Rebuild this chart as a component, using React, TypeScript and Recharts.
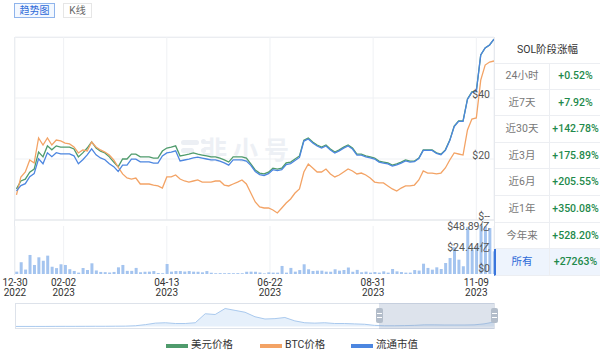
import React from 'react';
import { LineChart, Line, BarChart, Bar, AreaChart, Area, XAxis, YAxis, CartesianGrid, ReferenceLine } from 'recharts';

const FONT = 'Roboto, "Noto Sans CJK SC", sans-serif';

const GREEN = '#4f9b6c';
const ORANGE = '#f3a365';
const BLUE = '#4c86e0';

// 采样点：2022-12-30 起的天数，每 3 天一个点
const dayOffsets = Array.from({ length: 109 }, (_, i) => 2 + i * 3);

const tickDays = [1, 34, 104, 174, 244, 314];
const tickLabels = [
  ['12-30', '2022'],
  ['02-02', '2023'],
  ['04-13', '2023'],
  ['06-22', '2023'],
  ['08-31', '2023'],
  ['11-09', '2023'],
];

// 美元价格 ($)
const usdPrice = [
  10.2, 12.8, 13.4, 15.7, 16.7, 22.3, 20.7, 24.3, 23.0, 24.3,
  23.9, 23.9, 23.9, 23.3, 20.7, 22.0, 23.6, 25.6, 23.6, 22.6,
  22.0, 20.7, 19.0, 17.4, 20.0, 20.0, 21.6, 21.6, 20.7, 20.7,
  20.7, 20.3, 20.3, 22.6, 23.6, 23.9, 24.3, 21.0, 21.3, 21.6,
  22.0, 21.6, 21.3, 21.0, 20.7, 20.7, 20.3, 19.7, 19.0, 20.7,
  20.7, 20.7, 20.3, 18.4, 16.4, 15.4, 15.1, 15.7, 17.0, 16.7,
  17.0, 18.7, 19.0, 20.0, 21.0, 26.2, 26.9, 25.6, 24.6, 23.9,
  24.6, 23.3, 22.3, 23.0, 23.9, 24.6, 23.6, 21.6, 21.6, 21.0,
  20.7, 20.3, 19.3, 19.0, 18.7, 18.0, 18.4, 19.0, 19.7, 19.3,
  19.3, 20.3, 23.0, 23.0, 23.0, 22.0, 21.6, 23.0, 26.2, 30.8,
  32.5, 32.5, 39.7, 42.0, 42.3, 54.1, 56.4, 57.4, 59.3,
];

// BTC价格 (单位 1e-5 BTC)
const btcPrice = [
  66.7, 78.7, 82, 90, 88, 104.7, 100, 104.7, 100, 103.3,
  102.7, 101.3, 100.7, 98.7, 94.7, 96.7, 96, 102, 98.7, 96.7,
  95.3, 93.3, 90, 85.3, 80.7, 78, 77.3, 78, 74, 74,
  74, 73.3, 72.7, 71.3, 78.7, 78.7, 80, 77.3, 76, 75.3,
  76, 76.7, 75.3, 75.3, 75.3, 76, 76, 73.3, 72.7, 74,
  75.3, 76.7, 74, 68, 62, 58.7, 58, 58, 56.7, 54.7,
  58, 61.3, 64, 68, 70.7, 82, 87.3, 84.7, 82, 82,
  84, 80.7, 78.7, 80, 82, 84, 82.7, 80.7, 81.3, 80,
  78, 75.3, 74.7, 74.7, 72.7, 70.7, 69.3, 71.3, 72.7, 72.7,
  73.3, 76.7, 82.7, 81.3, 81.3, 80.7, 81.3, 84.7, 90, 94.7,
  94, 93.3, 110, 117.3, 118, 143.3, 153.3, 155.3, 156,
];

// 流通市值 (亿美元)
const marketCap = [
  38.2, 45.2, 47.6, 56.8, 60.8, 80.2, 73.8, 88.2, 83, 88.2,
  86.6, 86.6, 86.6, 84.2, 73.8, 79, 85.4, 93.4, 85.4, 81.4,
  79, 73.8, 70, 63.6, 72, 72, 79.9, 79.9, 76.3, 76.3,
  76.3, 74.7, 74.7, 83.9, 87.9, 89.1, 90.7, 77.5, 78.7, 79.9,
  81.5, 82.4, 81.2, 80, 78.8, 78.8, 77.2, 74.8, 72, 78.8,
  78.8, 78.8, 77.2, 71.6, 63.6, 59.6, 58.4, 60.8, 66, 64.8,
  66, 72.8, 74, 78, 82, 103.5, 106.3, 101.1, 97.1, 94.3,
  97.1, 91.9, 87.9, 90.7, 94.3, 97.1, 93.1, 85.1, 85.1, 82.7,
  81.5, 79.9, 75.9, 74.7, 73.5, 70.7, 72.3, 74.7, 77.5, 75.9,
  76.5, 80.5, 91.3, 91.3, 91.3, 87.3, 85.7, 91.3, 104.1, 122.5,
  129.3, 129.3, 158.1, 167.3, 168.5, 216.4, 225.6, 229.6, 237.2,
];

// 成交额 (亿美元)
const volume = [
  2.4, 12, 4.5, 19.4, 9.2, 17, 13.5, 18.7, 7.4, 6,
  9.9, 9.2, 4.9, 3.1, 1.4, 6.1, 4.1, 10.9, 3.6, 2.1,
  1.9, 1.5, 2.1, 6.8, 9.2, 3.2, 3.2, 6.2, 1.8, 2.3,
  2.4, 3, 1, 0.8, 10.2, 2.4, 3, 3, 2.5, 3,
  2.4, 2.3, 1.7, 3, 1.3, 0.8, 0.9, 0.8, 0.9, 0.8,
  0.9, 0.8, 2.3, 2.4, 2.2, 1.5, 0.6, 1.7, 1.4, 1.4,
  8.2, 1.4, 6.2, 2.4, 4, 9.9, 4.8, 3.1, 3.4, 3.4,
  2.4, 2.3, 4.8, 3.4, 4.1, 6.6, 2.3, 4.2, 1.8, 2.4,
  1.4, 2, 1.4, 2.7, 1.4, 5.1, 2.7, 2, 1.4, 1.4,
  4, 3.5, 10.5, 6.2, 4.4, 6.8, 5.1, 11.2, 16.3, 27.2,
  14.6, 7.9, 48, 24.8, 28.2, 48.89, 48.6, 46.8, 23.1,
];
const volumeMax = 48.89;
const volumeTicks = [0, 24.44, volumeMax];

// 缩略轴里的全部历史价格 ($)
const sliderHistory = [
  1, 1, 1, 1, 1.5, 2, 2, 2.5, 3, 3,
  4, 5, 10, 25, 45, 50, 40, 40, 50, 170,
  160, 240, 215, 190, 130, 100, 105, 120, 75, 50,
  45, 50, 40, 40, 35, 30, 15, 10, 10, 12,
  15, 22, 22, 20, 20, 20, 22, 35, 60,
];

const seriesNames = ['美元价格', 'BTC价格', '流通市值'];
const seriesColors = [GREEN, ORANGE, BLUE];

const periodLabels = ['24小时', '近7天', '近30天', '近3月', '近6月', '近1年', '今年来', '所有'];
const periodChanges = ['+0.52%', '+7.92%', '+142.78%', '+175.89%', '+205.55%', '+350.08%', '+528.20%', '+27263%'];

const PriceTick = (props: any) => {
  const { x, y, payload } = props;
  const label = payload.value === 0 ? '$--' : `$${payload.value}`;
  return (
    <text x={x} y={y - 4} dy="0.35em" textAnchor="end" fontSize={10.5} fill="#555" fontFamily={FONT}>
      {label}
    </text>
  );
};

const VolumeTick = (props: any) => {
  const { x, y, payload } = props;
  const v = payload.value;
  const label = v === 0 ? '$0' : `$${v}亿`;
  const shift = v === 0 ? -6 : v === volumeMax ? 0 : -3;
  return (
    <text x={x} y={y + shift} dy="0.35em" textAnchor="end" fontSize={10.5} fill="#555" fontFamily={FONT}>
      {label}
    </text>
  );
};

const DateTick = (props: any) => {
  const { x, y, payload } = props;
  const idx = tickDays.indexOf(payload.value);
  const [md, yr] = tickLabels[idx] ?? ['', ''];
  return (
    <g>
      <text x={x} y={y + 12} textAnchor="middle" fontSize={10} fill="#333" fontFamily={FONT}>{md}</text>
      <text x={x} y={y + 22} textAnchor="middle" fontSize={10} fill="#333" fontFamily={FONT}>{yr}</text>
    </g>
  );
};

export default function App() {
  const rows = dayOffsets.map((d, i) => ({
    day: d,
    usd: usdPrice[i],
    btc: btcPrice[i],
    mcap: marketCap[i],
    vol: volume[i],
  }));
  const mini = sliderHistory.map((v, k) => ({ k, v }));

  const tab = {
    position: 'absolute' as const,
    top: 3,
    height: 15,
    boxSizing: 'border-box' as const,
    fontSize: 10,
    lineHeight: '13px',
    textAlign: 'center' as const,
  };

  return (
    <div style={{ position: 'absolute', left: 0, top: 0, width: 600, height: 354, background: '#fff', fontFamily: FONT, overflow: 'hidden' }}>
      {/* 标签页 */}
      <div style={{ ...tab, left: 14, width: 41, border: '1px solid #8fb4ec', background: '#f3f8ff', color: '#2f6bd8' }}>趋势图</div>
      <div style={{ ...tab, left: 63, width: 29, border: '1px solid #e6e6e6', color: '#666' }}>K线</div>

      {/* 外框 */}
      <div style={{ position: 'absolute', left: 14, top: 37, width: 586, borderTop: '1px solid #e6e9ee' }} />
      <div style={{ position: 'absolute', left: 14, top: 37, height: 238, borderLeft: '1px solid #e6e9ee' }} />

      {/* 水印 */}
      <div style={{ position: 'absolute', left: 181, top: 140, width: 18, height: 5, borderRadius: 3, background: '#eceff4' }} />
      <div style={{ position: 'absolute', left: 181, top: 148, width: 13, height: 5, borderRadius: 3, background: '#eceff4' }} />
      <div style={{ position: 'absolute', left: 201, top: 139, width: 5, height: 5, borderRadius: 3, background: '#eceff4' }} />
      <div style={{ position: 'absolute', left: 201, top: 148, width: 5, height: 5, borderRadius: 3, background: '#eceff4' }} />
      <div style={{ position: 'absolute', left: 202, top: 130, fontSize: 25, fontWeight: 700, letterSpacing: 6, color: '#edf0f5' }}>非小号</div>

      {/* 价格图 */}
      <div style={{ position: 'absolute', left: 0, top: 0 }}>
        <LineChart width={600} height={222} data={rows} margin={{ top: 37, right: 106, bottom: 2, left: 15 }}>
          <CartesianGrid yAxisId="p" stroke="#eff1f4" />
          <XAxis type="number" dataKey="day" domain={[1, 326]} ticks={tickDays} interval={0} hide />
          <YAxis
            yAxisId="p"
            orientation="right"
            mirror
            domain={[0, 60]}
            ticks={[0, 20, 40]}
            interval={0}
            axisLine={false}
            tickLine={false}
            tickSize={4}
            tickMargin={0}
            tick={<PriceTick />}
          />
          <YAxis yAxisId="b" hide domain={[50, 172]} />
          <YAxis yAxisId="m" hide domain={[0, 240]} />
          <ReferenceLine yAxisId="p" y={0} stroke="#e2e5ea" />
          <Line yAxisId="p" type="linear" dataKey="usd" name={seriesNames[0]} stroke={GREEN} strokeWidth={1.3} dot={false} isAnimationActive={false} />
          <Line yAxisId="b" type="linear" dataKey="btc" name={seriesNames[1]} stroke={ORANGE} strokeWidth={1.3} dot={false} isAnimationActive={false} />
          <Line yAxisId="m" type="linear" dataKey="mcap" name={seriesNames[2]} stroke={BLUE} strokeWidth={1.3} dot={false} isAnimationActive={false} />
        </LineChart>
      </div>

      {/* 成交额 */}
      <div style={{ position: 'absolute', left: 0, top: 212 }}>
        <BarChart width={600} height={90} data={rows} margin={{ top: 14, right: 106, bottom: 0, left: 15 }}>
          <CartesianGrid horizontal={false} stroke="#eff1f4" />
          <XAxis
            type="number"
            dataKey="day"
            domain={[1, 326]}
            ticks={tickDays}
            interval={0}
            height={28}
            axisLine={false}
            tickLine={false}
            tickSize={0}
            tickMargin={0}
            tick={<DateTick />}
          />
          <YAxis
            orientation="right"
            mirror
            domain={[0, volumeMax]}
            ticks={volumeTicks}
            interval={0}
            axisLine={false}
            tickLine={false}
            tickSize={4}
            tickMargin={0}
            tick={<VolumeTick />}
          />
          <Bar dataKey="vol" fill="#a4c4ef" barSize={3} isAnimationActive={false} />
        </BarChart>
      </div>

      {/* 阶段涨幅 */}
      <div style={{ position: 'absolute', left: 494, top: 37, width: 106, height: 239, boxSizing: 'border-box', borderLeft: '1px solid #e6e9ee', background: '#fff' }}>
        <div style={{ position: 'absolute', left: 0, top: 0, width: 105, height: 26, borderBottom: '1px solid #eceef2', textAlign: 'center', lineHeight: '26px', fontSize: 10.5, color: '#333' }}>
          SOL阶段涨幅
        </div>
        {periodLabels.map((label, r) => {
          const all = r === periodLabels.length - 1;
          return (
            <div
              key={label}
              style={{
                position: 'absolute',
                left: all ? -1 : 0,
                top: 26 + r * 26.6,
                width: all ? 106 : 105,
                height: 26.6,
                boxSizing: 'border-box',
                borderBottom: '1px solid #eceef2',
                borderLeft: all ? '2px solid #3a75dc' : 'none',
                background: all ? '#eef4fd' : 'transparent',
                fontSize: 10.5,
                lineHeight: '26px',
              }}
            >
              <div style={{ position: 'absolute', left: all ? -1 : 0, top: 0, width: 55, height: '100%', boxSizing: 'border-box', borderRight: '1px solid #eceef2', textAlign: 'center', color: all ? '#2f6bd8' : '#777' }}>
                {label}
              </div>
              <div style={{ position: 'absolute', left: all ? 54 : 55, top: 0, width: 51, textAlign: 'center', color: '#1f8a4c', fontWeight: 500 }}>
                {periodChanges[r]}
              </div>
            </div>
          );
        })}
      </div>

      {/* 缩略轴 */}
      <div style={{ position: 'absolute', left: 15, top: 303, width: 480, height: 26, boxSizing: 'border-box', border: '1px solid #dde2ea' }}>
        <AreaChart width={478} height={24} data={mini} margin={{ top: 0, right: 0, bottom: 0, left: 0 }}>
          <XAxis type="number" dataKey="k" domain={[0, 48]} hide />
          <YAxis hide domain={[-20, 300]} />
          <Area type="linear" dataKey="v" stroke="#a9c9ee" strokeWidth={1} fill="#e6f0fb" fillOpacity={1} isAnimationActive={false} />
        </AreaChart>
      </div>
      <div style={{ position: 'absolute', left: 379, top: 303, width: 115, height: 26, background: 'rgba(150,168,196,0.32)' }} />
      {[379, 494].map((hx) => (
        <div key={hx} style={{ position: 'absolute', left: hx - 3, top: 308, width: 7, height: 15, borderRadius: 2, background: '#b3bdca' }}>
          <div style={{ position: 'absolute', left: 1, top: 5, width: 5, height: 1, background: '#fff' }} />
          <div style={{ position: 'absolute', left: 1, top: 9, width: 5, height: 1, background: '#fff' }} />
        </div>
      ))}

      {/* 图例 */}
      {seriesNames.map((name, i) => {
        const left = [166, 260, 351][i];
        return (
          <React.Fragment key={name}>
            <div style={{ position: 'absolute', left, top: 344, width: 22, height: 4, background: seriesColors[i] }} />
            <div style={{ position: 'absolute', left: left + 25, top: 338, fontSize: 10.5, lineHeight: '14px', color: '#333' }}>{name}</div>
          </React.Fragment>
        );
      })}
    </div>
  );
}
